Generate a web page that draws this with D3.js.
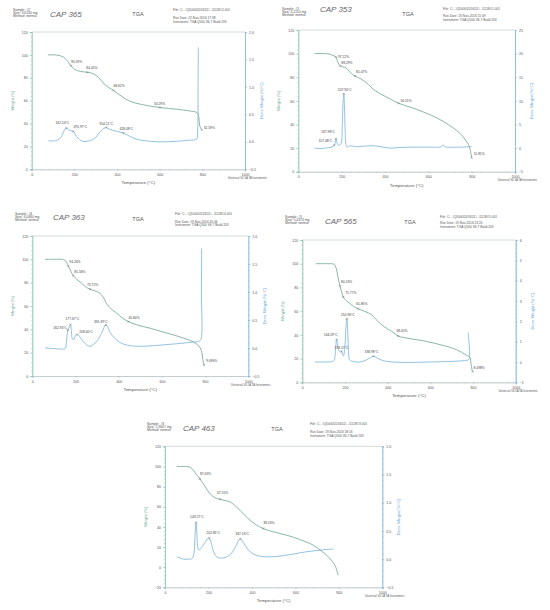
<!DOCTYPE html>
<html><head><meta charset="utf-8">
<script src="https://cdn.jsdelivr.net/npm/d3@7"></script>
<style>body{margin:0;background:#fff}svg{display:block}text{font-family:"Liberation Sans",Arial,sans-serif}</style>
</head><body><svg id="c" width="550" height="610"></svg>
<script>
// ---------- shared tick values ----------
const xTicks = [0, 200, 400, 600, 800, 1000];
const wTicks = [0, 20, 40, 60, 80, 100, 120];
const wTicks5 = [-20, 0, 20, 40, 60, 80, 100, 120];
const dTicksA = [-0.5, 0.0, 0.5, 1.0, 1.5, 2.0];
const dTicksB = [-5, 0, 5, 10, 15, 20, 25];
const dTicksC = [-1, 0, 1, 2, 3, 4, 5, 6];

// ---------- panel 1 (CAP 365) ----------
const p1Header = ["Sample: #2", "Size: 3.6130 mg", "Method: normal"];
const p1Hand = "CAP 365";
const p1Info = ["File: C:...\\Q5000\\2016\\11\\...\\1118\\#2.001", "Run Date: 22-Nov-2016 17:38", "Instrument: TGA Q500 V6.7 Build 203"];
const p1Weight = [[76,100],[120,99.8],[150,98],[170,94],[184,90.6],[200,87.5],[230,85.5],[261,84.8],[290,83.5],[315,80],[340,74.5],[365,71],[383,69],[420,64],[460,59.5],[520,56.5],[601,54],[680,52.5],[740,51],[775,49.5],[783,46],[788,38],[797,34.5]];
const p1Deriv = [[78,0.02],[110,0.02],[130,0.05],[145,0.14],[155,0.23],[162,0.25],[172,0.23],[185,0.2],[195,0.19],[210,0.1],[225,0.04],[240,0.01],[260,0.01],[280,0.03],[300,0.08],[320,0.18],[340,0.25],[350,0.26],[365,0.23],[390,0.2],[430,0.16],[460,0.1],[490,0.05],[530,0.02],[600,0.0],[680,0.01],[740,0.03],[773,0.05],[778,0.2],[780,1.0],[781,1.72]];
const p1WeightNotes = [[184,90.6,"90.59%"],[261,84.8,"84.41%"],[383,69,"68.62%"],[601,54,"53.29%"],[797,34.5,"32.59%"]];
const p1DerivNotes = [[162,0.25,"162.54°C"],[195,0.19,"195.97°C"],[350,0.26,"354.21°C"],[430,0.16,"428.48°C"]];

// ---------- panel 2 (CAP 353) ----------
const p2Header = ["Sample: #1", "Size: 4.1150 mg", "Method: normal"];
const p2Hand = "CAP 353";
const p2Info = ["File: C:...\\Q5000\\2016\\11\\...\\1118\\#1.001", "Run Date: 19-Nov-2016 15:49", "Instrument: TGA Q500 V6.7 Build 203"];
const p2Weight = [[74,100],[120,100],[146,99.5],[160,98.5],[174,97],[180,94],[187,91],[194,89.6],[205,88.8],[220,88],[240,84],[262,81],[290,78.5],[323,74],[345,70],[369,67],[415,62.5],[462,58],[520,54.5],[585,50],[640,45.5],[692,40],[730,35],[754,31],[775,26],[788,22],[794,18],[800,11.8]];
const p2Deriv = [[74,0],[100,-0.1],[140,0.1],[158,0.3],[166,0.6],[171,1.4],[174,2.0],[178,1.2],[184,0.6],[190,0.6],[198,1],[203,5],[207,10],[210,11.5],[213,9],[216,4],[220,0.8],[226,0.2],[240,0.5],[260,0.3],[300,0.4],[340,0.5],[380,0.3],[420,0.0],[460,0.1],[520,0.2],[600,0.2],[660,0.3],[668,0.7],[676,0.3],[740,0.2],[800,0.3]];
const p2WeightNotes = [[174,97,"97.22%"],[194,89.6,"88.29%"],[262,81,"81.07%"],[462,58,"56.51%"],[800,11.8,"11.81%"]];
const p2DerivNotes = [[166,0.6,"157.48°C"],[174,2.0,"167.98°C"],[210,11.5,"207.94°C"]];

// ---------- panel 3 (CAP 363) ----------
const p3Header = ["Sample: #4", "Size: 4.0460 mg", "Method: normal"];
const p3Hand = "CAP 363";
const p3Info = ["File: C:...\\Q5000\\2016\\11\\...\\1118\\#4.001", "Run Date: 19-Nov-2016 20:46", "Instrument: TGA Q500 V6.7 Build 203"];
const p3Weight = [[59,100],[100,100],[145,99.8],[155,98.5],[167,94.2],[178,90],[190,86],[205,83],[229,79.5],[250,76],[267,74.4],[290,73],[313,71],[330,67],[344,62],[365,57.5],[390,54],[415,50],[445,46.6],[490,43.5],[545,41],[600,38],[652,35.3],[700,32.5],[730,30.5],[760,27.5],[778,24],[785,20],[790,14],[795,9.4]];
const p3Deriv = [[59,0.0],[100,-0.01],[140,-0.02],[152,-0.01],[158,0.1],[163,0.3],[167,0.34],[172,0.38],[177,0.42],[181,0.3],[186,0.16],[192,0.15],[200,0.22],[208,0.24],[220,0.2],[235,0.12],[250,0.06],[267,0.03],[285,0.07],[305,0.15],[325,0.3],[338,0.41],[345,0.4],[360,0.28],[380,0.18],[405,0.1],[440,0.05],[500,0.03],[560,0.04],[620,0.06],[680,0.08],[730,0.1],[770,0.12],[780,0.15],[783,1.0],[784,1.78]];
const p3WeightNotes = [[167,94.2,"94.24%"],[190,86,"85.58%"],[267,74.4,"73.72%"],[445,46.6,"45.84%"],[795,9.4,"9.096%"]];
const p3DerivNotes = [[165,0.32,"162.94°C"],[177,0.42,"177.67°C"],[208,0.24,"208.60°C"],[341,0.41,"335.39°C"]];

// ---------- panel 4 (CAP 565) ----------
const p4Header = ["Sample: #5", "Size: 5.4374 mg", "Method: normal"];
const p4Hand = "CAP 565";
const p4Info = ["File: C:...\\Q5000\\2016\\11\\...\\1118\\#5.001", "Run Date: 19-Nov-2016 23:20", "Instrument: TGA Q500 V6.7 Build 203"];
const p4Weight = [[63,100],[120,100],[150,99.5],[157,97],[161,94.6],[168,88],[177,81],[185,76],[192,72],[205,69],[223,66.4],[240,64],[262,62],[290,60],[310,58.5],[325,57],[345,53],[372,48.5],[400,45],[419,43],[450,39],[500,37],[575,34.7],[640,32],[700,29],[740,26],[762,23.6],[786,21],[790,16],[795,11],[798,9]];
const p4Deriv = [[59,0],[100,0],[140,0.02],[150,0.1],[155,0.5],[159,1.0],[161,1.1],[165,0.9],[170,0.6],[178,0.5],[184,0.52],[189,0.35],[193,0.3],[200,0.8],[205,1.8],[209,2.13],[213,1.5],[217,0.4],[222,0.1],[240,0.02],[270,0.0],[300,0.1],[320,0.22],[334,0.28],[350,0.2],[380,0.06],[420,0.0],[500,-0.02],[600,0.0],[700,0.03],[760,0.07],[780,0.12],[784,0.5],[781,1.0],[777,1.45]];
const p4WeightNotes = [[177,81,"80.13%"],[192,72,"71.77%"],[262,62,"61.86%"],[450,39,"38.02%"],[798,9,"8.498%"]];
const p4DerivNotes = [[161,1.1,"164.59°C"],[184,0.52,"193.17°C"],[209,2.13,"210.96°C"],[334,0.28,"338.98°C"]];

// ---------- panel 5 (CAP 463) ----------
const p5Header = ["Sample: #3", "Size: 2.3607 mg", "Method: normal"];
const p5Hand = "CAP 463";
const p5Info = ["File: C:...\\Q5000\\2016\\11\\...\\1118\\#3.001", "Run Date: 19-Nov-2016 18:16", "Instrument: TGA Q500 V6.7 Build 203"];
const p5Weight = [[54,100],[100,100],[115,99.5],[130,96.4],[145,92],[161,87.6],[185,80],[207,73],[230,69],[253,67.5],[280,66],[299,65],[320,61.5],[345,56.6],[370,51],[391,46.7],[420,42],[452,38.4],[500,35],[560,31.8],[620,27.5],[682,21.9],[720,16],[744,12],[765,7],[782,2],[797,-8]];
const p5Deriv = [[54,0.04],[70,0.02],[84,0.0],[110,0.0],[125,0.01],[133,0.1],[138,0.4],[143,0.65],[147,0.45],[151,0.2],[157,0.16],[169,0.21],[185,0.3],[198,0.37],[204,0.37],[212,0.3],[222,0.15],[238,0.04],[268,0.02],[300,0.08],[325,0.22],[340,0.34],[347,0.36],[360,0.3],[380,0.18],[406,0.09],[440,0.05],[483,0.04],[540,0.06],[590,0.09],[650,0.13],[713,0.16],[775,0.18]];
const p5WeightNotes = [[161,87.6,"87.63%"],[253,67.5,"67.55%"],[452,38.4,"38.16%"]];
const p5DerivNotes = [[143,0.65,"143.57°C"],[204,0.37,"202.86°C"],[347,0.36,"347.16°C"]];

// ---------- layout (positions only) ----------
const layouts = [
  {x0:31.7, x1:245, yt:32, yb:169.3, wDom:[0,120], wT:wTicks, dDom:[-0.5,2.0], dT:dTicksA, dFmt:".1f", dMinor:0.1,
   hx:13, hy:11, handX:50, handY:17, tgaX:138, tgaY:16, infoX:173, infoY:[11,19.3,22.7],
   wOff:[[0,-3,"start"],[-1,-3,"start"],[0,-3,"start"],[-6,-3,"start"],[2,-1,"start"]],
   dOff:[[3,-4,"end"],[0,-3,"start"],[-7,-3,"start"],[-4,-3,"start"]]},
  {x0:298.3, x1:515, yt:30, yb:171.7, wDom:[0,120], wT:wTicks, dDom:[-5,25], dT:dTicksB, dFmt:"d", dMinor:1,
   hx:282, hy:10, handX:320, handY:12, tgaX:408, tgaY:16, infoX:443, infoY:[10,17,20.5],
   wOff:[[2,1,"start"],[1,-2,"start"],[1,-3,"start"],[2,-1,"start"],[2,-3,"start"]],
   dOff:[[-2,-3,"end"],[-1,-6,"end"],[-6,-3,"start"]]},
  {x0:32.3, x1:248.3, yt:236, yb:376, wDom:[0,120], wT:wTicks, dDom:[-0.5,2.0], dT:dTicksA, dFmt:".1f", dMinor:0.1,
   hx:15, hy:215, handX:53, handY:220, tgaX:138, tgaY:221, infoX:175, infoY:[215,222.5,226],
   wOff:[[1,-3,"start"],[1,-3,"start"],[-3,-3,"start"],[0,-3,"start"],[2,-3,"start"]],
   dOff:[[-1,-1,"end"],[-5,-4,"start"],[2,-2,"start"],[-12,-2,"start"]]},
  {x0:302.3, x1:515.7, yt:240, yb:382.3, wDom:[0,120], wT:wTicks, dDom:[-1,6], dT:dTicksC, dFmt:"d", dMinor:0.2,
   hx:285, hy:218, handX:325, handY:224, tgaX:410, tgaY:224, infoX:440, infoY:[218,224,227.5],
   wOff:[[1,-3,"start"],[2,-3,"start"],[-2,-4,"start"],[-2,-4,"start"],[1,-3,"start"]],
   dOff:[[1,-4,"end"],[-7,-2,"start"],[-6,-3,"start"],[-9,-3,"start"]]},
  {x0:165, x1:382.3, yt:446.4, yb:587.3, wDom:[-20,120], wT:wTicks5, dDom:[-0.5,2.0], dT:dTicksA, dFmt:".1f", dMinor:0.1,
   hx:147, hy:425, handX:183, handY:431, tgaX:277, tgaY:431, infoX:310, infoY:[425,433,437],
   wOff:[[0,-4,"start"],[-3,-5,"start"],[0,-5,"start"]],
   dOff:[[-6,-4,"start"],[-3,-4,"start"],[-5,-4,"start"]]}
];
const panels = [
  [p1Header,p1Hand,p1Info,p1Weight,p1Deriv,p1WeightNotes,p1DerivNotes],
  [p2Header,p2Hand,p2Info,p2Weight,p2Deriv,p2WeightNotes,p2DerivNotes],
  [p3Header,p3Hand,p3Info,p3Weight,p3Deriv,p3WeightNotes,p3DerivNotes],
  [p4Header,p4Hand,p4Info,p4Weight,p4Deriv,p4WeightNotes,p4DerivNotes],
  [p5Header,p5Hand,p5Info,p5Weight,p5Deriv,p5WeightNotes,p5DerivNotes]
];

const WCOL = "#7eae9f", DCOL = "#86bbdc", LAX = "#88c4ad", RAX = "#7fb6e0", TXT = "#555", GRID = "#b9c4c4";
const svg = d3.select("#c");

function range(a, b, s) { const r = []; for (let v = a; v <= b + 1e-9; v += s) r.push(+v.toFixed(4)); return r; }

panels.forEach((P, i) => {
  const [hdr, hand, info, wData, dData, wNotes, dNotes] = P;
  const L = layouts[i];
  const g = svg.append("g");
  const x = d3.scaleLinear([0, 1000], [L.x0, L.x1]);
  const yW = d3.scaleLinear(L.wDom, [L.yb, L.yt]);
  const yD = d3.scaleLinear(L.dDom, [L.yb, L.yt]);

  // header
  const ht = g.append("text").attr("x", L.hx).attr("y", L.hy).attr("font-size", 3.4).attr("fill", TXT);
  hdr.forEach((s, k) => ht.append("tspan").attr("x", L.hx).attr("dy", k ? 3.2 : 0).text(s));
  g.append("text").attr("x", L.handX).attr("y", L.handY).attr("font-size", 8).attr("fill", "#666")
    .attr("font-family", "DejaVu Serif").attr("font-style", "italic").text(hand);
  g.append("text").attr("x", L.tgaX).attr("y", L.tgaY).attr("font-size", 5.5).attr("text-anchor", "middle").attr("fill", TXT).text("TGA");
  info.forEach((s, k) => g.append("text").attr("x", L.infoX).attr("y", L.infoY[k]).attr("font-size", 3.2).attr("fill", TXT).text(s));

  // frame top line
  g.append("line").attr("x1", L.x0).attr("x2", L.x1).attr("y1", L.yt).attr("y2", L.yt).attr("stroke", GRID).attr("stroke-width", 0.6);

  // axes
  const fs = 3.6;
  const xAx = g.append("g").attr("transform", `translate(0,${L.yb})`)
    .call(d3.axisBottom(x).tickValues(xTicks).tickSize(2).tickPadding(2).tickFormat(d3.format("d")));
  const xMin = g.append("g").attr("transform", `translate(0,${L.yb})`)
    .call(d3.axisBottom(x).tickValues(range(0, 1000, 40)).tickSize(1).tickFormat(""));
  const lAx = g.append("g").attr("transform", `translate(${L.x0},0)`)
    .call(d3.axisLeft(yW).tickValues(L.wT).tickSize(2).tickPadding(2).tickFormat(d3.format("d")));
  const lMin = g.append("g").attr("transform", `translate(${L.x0},0)`)
    .call(d3.axisLeft(yW).tickValues(range(L.wDom[0], L.wDom[1], 4)).tickSize(1).tickFormat(""));
  const rAx = g.append("g").attr("transform", `translate(${L.x1},0)`)
    .call(d3.axisRight(yD).tickValues(L.dT).tickSize(2).tickPadding(2).tickFormat(d3.format(L.dFmt)));
  const rMin = g.append("g").attr("transform", `translate(${L.x1},0)`)
    .call(d3.axisRight(yD).tickValues(range(L.dDom[0], L.dDom[1], L.dMinor)).tickSize(1).tickFormat(""));
  [[xAx, GRID], [xMin, GRID], [lAx, LAX], [lMin, LAX], [rAx, RAX], [rMin, RAX]].forEach(([a, c]) => {
    a.selectAll("path,line").attr("stroke", c).attr("stroke-width", 0.6);
    a.selectAll("text").attr("font-size", fs).attr("fill", TXT).attr("font-family", "Liberation Sans");
  });

  // axis titles
  const ym = (L.yt + L.yb) / 2;
  g.append("text").attr("transform", `translate(${L.x0 - 18},${ym}) rotate(-90)`).attr("text-anchor", "middle")
    .attr("font-size", 4).attr("fill", "#6aa88f").text("Weight (%)");
  g.append("text").attr("transform", `translate(${L.x1 + 18},${ym}) rotate(-90)`).attr("text-anchor", "middle")
    .attr("font-size", 4).attr("fill", "#5e9fd6").text("Deriv. Weight (%/°C)");
  g.append("text").attr("x", (L.x0 + L.x1) / 2).attr("y", L.yb + 15).attr("text-anchor", "middle")
    .attr("font-size", 4.4).attr("fill", TXT).text("Temperature (°C)");
  g.append("text").attr("x", L.x1 + 22).attr("y", L.yb + 9.5).attr("text-anchor", "end")
    .attr("font-size", 2.8).attr("fill", TXT).text("Universal V4.5A TA Instruments");

  // curves
  const wLine = d3.line().x(d => x(d[0])).y(d => yW(d[1])).curve(d3.curveCatmullRom.alpha(0.5));
  const dLine = d3.line().x(d => x(d[0])).y(d => yD(d[1])).curve(d3.curveCatmullRom.alpha(0.5));
  g.append("path").attr("d", dLine(dData)).attr("fill", "none").attr("stroke", DCOL).attr("stroke-width", 0.9);
  g.append("path").attr("d", wLine(wData)).attr("fill", "none").attr("stroke", WCOL).attr("stroke-width", 0.9);

  // annotations
  function note(px, py, label, off) {
    g.append("path").attr("d", `M${px - 1},${py - 1}L${px + 1},${py + 1}M${px - 1},${py + 1}L${px + 1},${py - 1}`)
      .attr("stroke", "#666").attr("stroke-width", 0.4);
    g.append("text").attr("x", px + off[0]).attr("y", py + off[1]).attr("text-anchor", off[2])
      .attr("font-size", 3.3).attr("fill", "#444").text(label);
  }
  wNotes.forEach((n, k) => note(x(n[0]), yW(n[1]), n[2], L.wOff[k]));
  dNotes.forEach((n, k) => note(x(n[0]), yD(n[1]), n[2], L.dOff[k]));
});
</script></body></html>
